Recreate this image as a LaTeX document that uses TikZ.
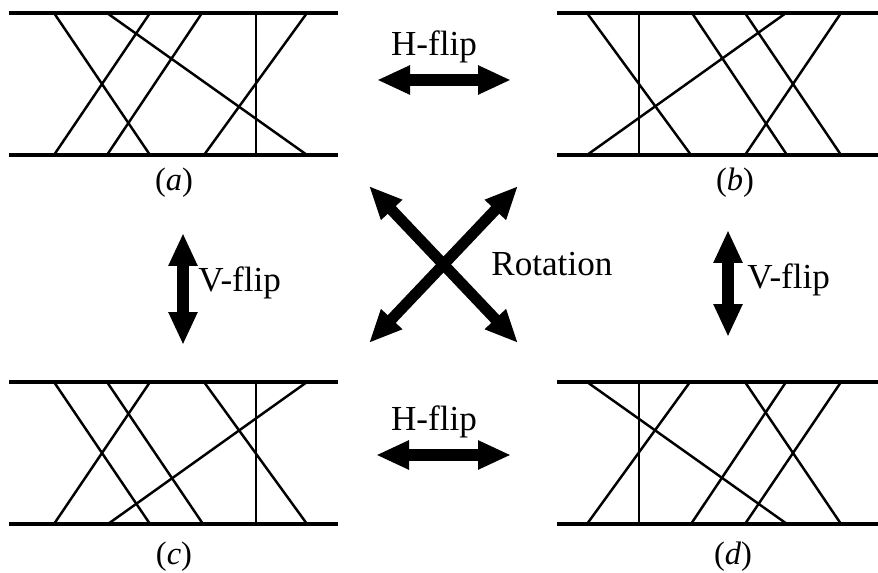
\documentclass[tikz,border=0pt]{standalone}
\usepackage{fontspec}
\setmainfont{Liberation Serif}
\usetikzlibrary{arrows.meta}

\begin{document}
\begin{tikzpicture}[x=0.02cm,y=-0.02cm]
	 \tikzstyle{rail}=[draw,line width=2.3pt,black]
	 \tikzstyle{strand}=[draw,line width=1.4pt,black]
	 \tikzstyle{flip}=[draw,line width=6.3pt,black,{Triangle[length=0.66cm,width=0.54cm]}-{Triangle[length=0.66cm,width=0.54cm]}]
	 \tikzstyle{caption}=[inner sep=0pt,font=\fontsize{18.5}{22}\selectfont]
	 \tikzstyle{opname}=[inner sep=0pt,font=\fontsize{20}{24}\selectfont]
	 \useasboundingbox (0,0) rectangle (878,573);
	 % panel (a)
	 \draw[rail] (9,13) -- (338,13);
	 \draw[rail] (9,155) -- (338,155);
	 \draw[strand] (54,13) -- (150,155);
	 \draw[strand] (107,13) -- (307,155);
	 \draw[strand] (150,13) -- (54,155);
	 \draw[strand] (202,13) -- (107,155);
	 \draw[strand] (256,13) -- (256,155);
	 \draw[strand] (307,13) -- (204,155);
	 % panel (b)
	 \draw[rail] (557,13) -- (878,13);
	 \draw[rail] (557,155) -- (878,155);
	 \draw[strand] (587,13) -- (691,155);
	 \draw[strand] (639,13) -- (639,155);
	 \draw[strand] (692,13) -- (787,155);
	 \draw[strand] (745,13) -- (841,155);
	 \draw[strand] (786,13) -- (587,155);
	 \draw[strand] (841,13) -- (745,155);
	 % panel (c)
	 \draw[rail] (9,382) -- (338,382);
	 \draw[rail] (9,524) -- (338,524);
	 \draw[strand] (54,382) -- (150,524);
	 \draw[strand] (107,382) -- (203,524);
	 \draw[strand] (150,382) -- (54,524);
	 \draw[strand] (204,382) -- (307,524);
	 \draw[strand] (256,382) -- (256,524);
	 \draw[strand] (307,382) -- (108,524);
	 % panel (d)
	 \draw[rail] (557,382) -- (878,382);
	 \draw[rail] (557,524) -- (878,524);
	 \draw[strand] (587,382) -- (787,524);
	 \draw[strand] (639,382) -- (639,524);
	 \draw[strand] (690,382) -- (587,524);
	 \draw[strand] (745,382) -- (841,524);
	 \draw[strand] (786,382) -- (691,524);
	 \draw[strand] (841,382) -- (745,524);
	 % captions
	 \node[caption] (capA) at (174,183) {(\textit{a})};
	 \node[caption] (capB) at (735,183) {(\textit{b})};
	 \node[caption] (capC) at (174,557) {(\textit{c})};
	 \node[caption] (capD) at (733,557) {(\textit{d})};
	 % arrow ends
	 \coordinate (htl) at (377,80);
	 \coordinate (htr) at (511,80);
	 \coordinate (hbl) at (376,455);
	 \coordinate (hbr) at (511,455);
	 \coordinate (vlt) at (183,233);
	 \coordinate (vlb) at (183,345);
	 \coordinate (vrt) at (728,230);
	 \coordinate (vrb) at (728,337);
	 \coordinate (rul) at (369,186);
	 \coordinate (rlr) at (518,343);
	 \coordinate (rur) at (518,186);
	 \coordinate (rll) at (369,343);
	 \draw[flip] (htl) -- (htr);
	 \draw[flip] (hbl) -- (hbr);
	 \draw[flip] (vlt) -- (vlb);
	 \draw[flip] (vrt) -- (vrb);
	 \draw[flip] (rul) -- (rlr);
	 \draw[flip] (rur) -- (rll);
	 % operation names
	 \node[opname] (hflipT) at (434,47) {H-flip};
	 \node[opname] (hflipB) at (434,422) {H-flip};
	 \node[opname,anchor=west] (vflipL) at (198,283) {V-flip};
	 \node[opname,anchor=west] (vflipR) at (747,280) {V-flip};
	 \node[opname,anchor=west] (rot) at (491,264) {Rotation};
\end{tikzpicture}
\end{document}
